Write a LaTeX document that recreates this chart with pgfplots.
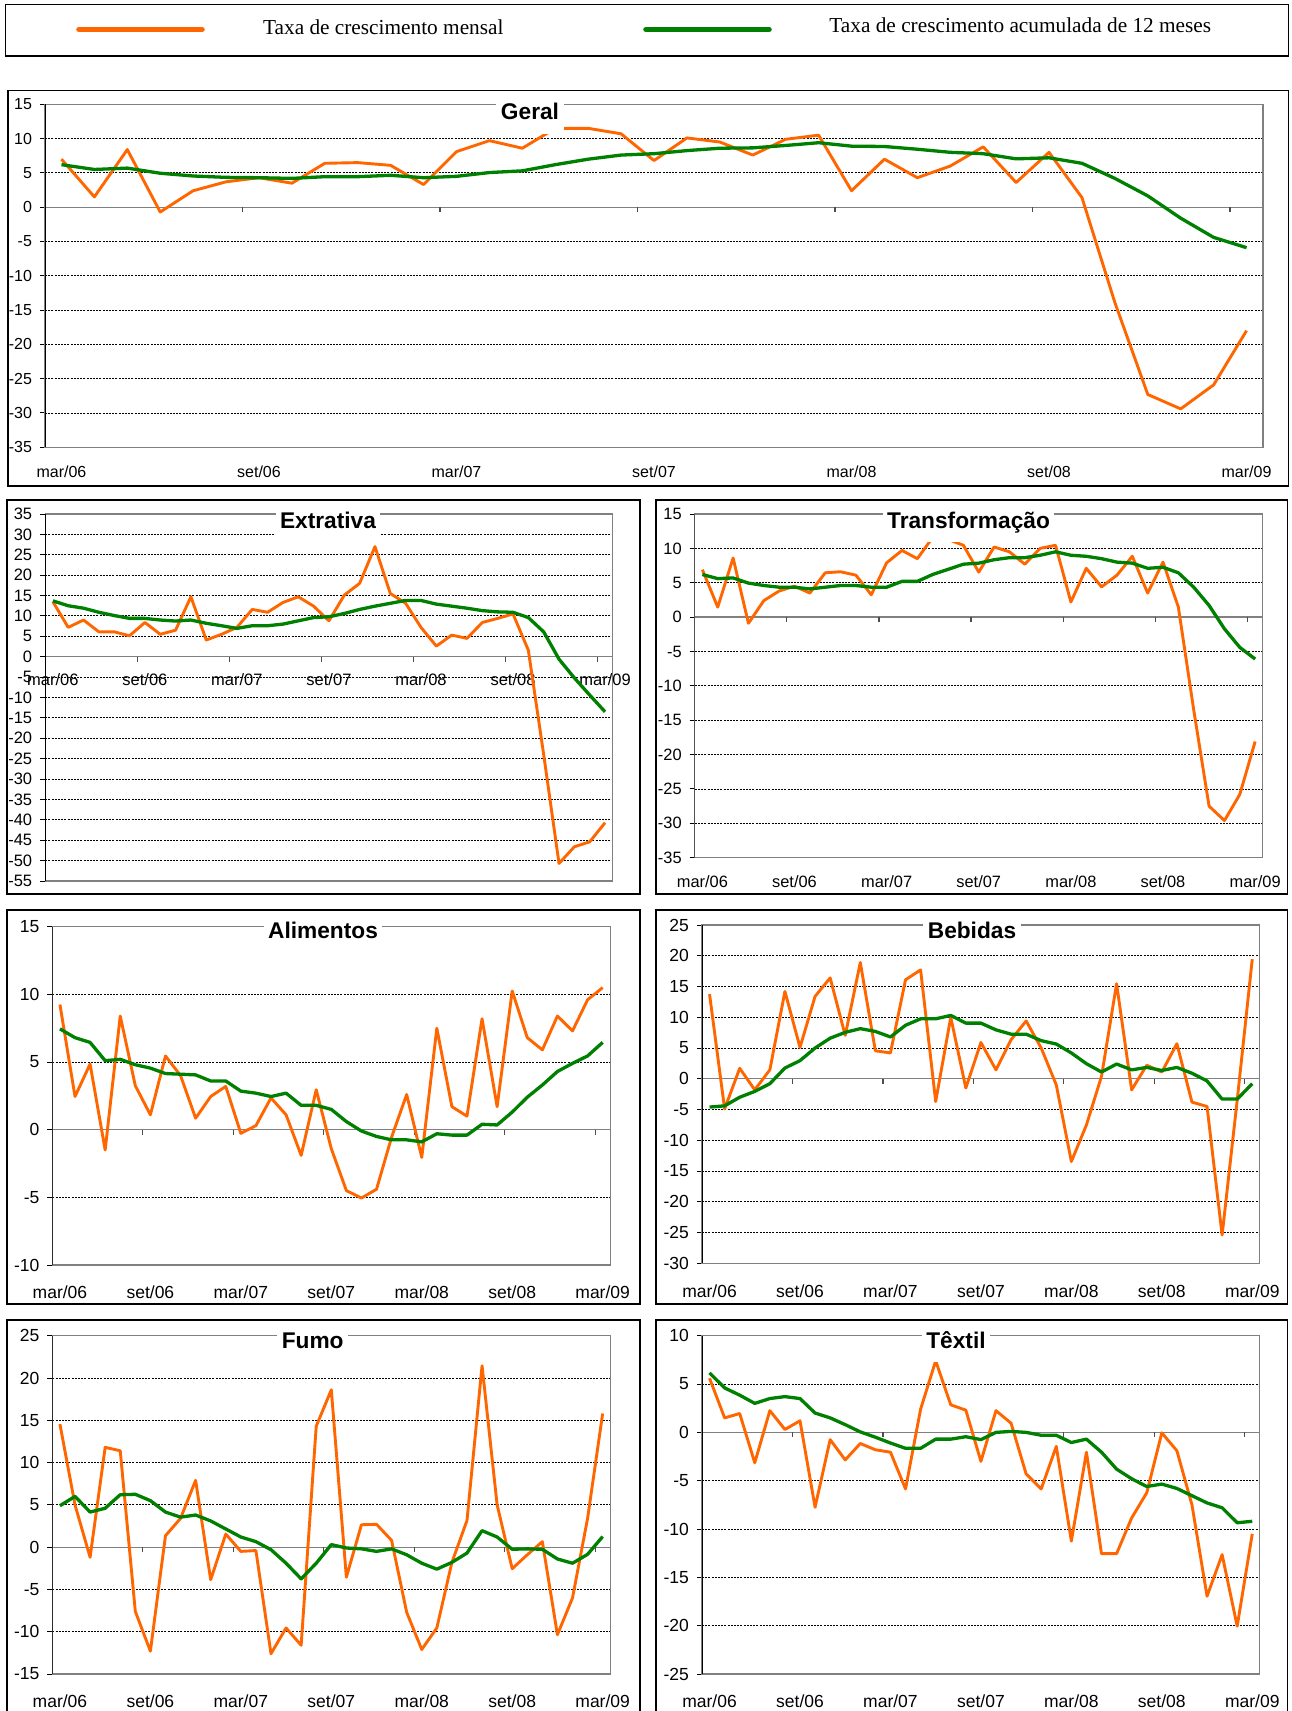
\documentclass[border=0pt]{standalone}
\usepackage{fontspec}
\setmainfont{Liberation Sans}
\newfontfamily\legendfont{Liberation Serif}
\usepackage{pgfplots}
\usepackage{pgfplotstable}
\pgfplotsset{compat=1.18}
\definecolor{serorange}{RGB}{255,102,0}
\definecolor{sergreen}{RGB}{0,128,0}
\definecolor{framegray}{RGB}{128,128,128}

\pgfplotstableread{
m a
7.0 6.2
1.5 5.5
8.4 5.7
-0.7 4.95
2.4 4.55
3.7 4.35
4.3 4.3
3.5 4.2
6.4 4.45
6.5 4.45
6.1 4.65
3.3 4.3
8.1 4.5
9.7 5.05
8.6 5.3
11.5 6.2
11.5 7.0
10.7 7.6
6.8 7.8
10.1 8.25
9.5 8.6
7.6 8.65
9.9 9.0
10.5 9.4
2.4 8.9
7.0 8.85
4.3 8.45
6.0 8.0
8.8 7.8
3.6 7.05
8.0 7.2
1.4 6.4
-13.9 4.2
-27.3 1.65
-29.4 -1.6
-25.9 -4.4
-18.0 -5.9
}\tgeral

\pgfplotstableread{
m a
13.5 13.7
7.2 12.5
9.0 11.9
6.1 10.9
6.1 10.1
5.15 9.4
8.4 9.4
5.5 9.0
6.5 8.75
14.7 9.0
4.1 8.2
5.5 7.6
7.2 6.95
11.6 7.6
10.9 7.6
13.3 8.0
14.7 8.8
12.4 9.6
8.8 9.8
15.1 10.6
18.0 11.6
27.0 12.4
15.5 13.1
13.1 13.8
7.2 13.8
2.6 12.9
5.3 12.4
4.5 11.9
8.4 11.3
9.4 11.0
10.5 10.9
1.6 9.6
-24.0 6.1
-50.7 -0.6
-46.6 -5.2
-45.4 -9.4
-40.7 -13.5
}\textrativa

\pgfplotstableread{
m a
6.9 6.2
1.45 5.6
8.6 5.7
-0.9 4.95
2.4 4.6
3.8 4.35
4.5 4.35
3.5 4.1
6.45 4.35
6.6 4.6
6.1 4.6
3.25 4.35
7.9 4.35
9.7 5.2
8.5 5.2
11.6 6.2
11.3 6.95
10.45 7.7
6.55 7.85
10.2 8.35
9.5 8.65
7.7 8.65
10.0 9.0
10.45 9.5
2.2 9.0
7.1 8.85
4.4 8.5
6.1 8.0
8.85 7.85
3.5 7.1
8.0 7.25
1.45 6.45
-13.5 4.35
-27.5 1.7
-29.6 -1.7
-25.8 -4.4
-18.1 -6.1
}\ttransf

\pgfplotstableread{
m a
9.25 7.45
2.45 6.8
4.85 6.45
-1.5 5.1
8.4 5.2
3.25 4.8
1.1 4.55
5.45 4.15
4.0 4.1
0.85 4.05
2.45 3.6
3.2 3.6
-0.27 2.85
0.3 2.7
2.35 2.45
1.1 2.7
-1.9 1.8
2.95 1.8
-1.4 1.5
-4.5 0.6
-5.05 -0.1
-4.4 -0.5
-0.55 -0.75
2.6 -0.75
-2.05 -0.9
7.5 -0.3
1.7 -0.4
1.0 -0.4
8.2 0.4
1.7 0.35
10.25 1.3
6.8 2.4
5.9 3.3
8.4 4.3
7.3 4.9
9.6 5.45
10.5 6.45
}\talim

\pgfplotstableread{
m a
13.75 -4.6
-4.9 -4.4
1.7 -3.0
-1.8 -2.05
1.45 -0.8
14.2 1.75
5.1 2.95
13.4 5.0
16.4 6.6
7.05 7.55
18.9 8.15
4.55 7.7
4.2 6.8
16.1 8.7
17.7 9.75
-3.7 9.75
10.0 10.3
-1.5 9.05
5.9 9.05
1.45 7.95
6.35 7.25
9.4 7.25
5.0 6.2
-1.0 5.65
-13.45 4.2
-7.5 2.45
0.4 1.1
15.45 2.4
-1.8 1.45
2.2 1.85
1.1 1.35
5.7 1.85
-3.8 0.9
-4.5 -0.35
-25.4 -3.3
-3.5 -3.3
19.45 -0.8
}\tbeb

\pgfplotstableread{
m a
14.55 4.9
5.0 6.0
-1.2 4.15
11.8 4.6
11.4 6.2
-7.6 6.25
-12.3 5.5
1.35 4.15
3.4 3.55
7.9 3.8
-3.85 3.1
1.55 2.15
-0.5 1.2
-0.4 0.65
-12.6 -0.3
-9.55 -1.9
-11.6 -3.75
14.3 -1.9
18.6 0.3
-3.55 -0.1
2.65 -0.2
2.7 -0.5
0.8 -0.2
-7.7 -0.9
-12.1 -1.9
-9.55 -2.6
-1.8 -1.8
3.15 -0.7
21.45 1.95
5.0 1.2
-2.55 -0.25
-0.9 -0.2
0.65 -0.25
-10.35 -1.4
-6.0 -1.9
3.4 -0.85
15.8 1.25
}\tfumo

\pgfplotstableread{
m a
5.6 6.15
1.5 4.6
1.95 3.85
-3.15 3.0
2.25 3.5
0.3 3.7
1.2 3.5
-7.75 2.0
-0.75 1.5
-2.85 0.8
-1.15 0.05
-1.8 -0.5
-2.05 -1.1
-5.85 -1.65
2.4 -1.65
7.4 -0.7
2.85 -0.7
2.3 -0.45
-3.0 -0.75
2.25 0.0
0.95 0.1
-4.3 0.0
-5.85 -0.3
-1.45 -0.3
-11.25 -1.05
-2.05 -0.7
-12.55 -2.05
-12.55 -3.8
-8.85 -4.8
-6.25 -5.6
-0.05 -5.35
-1.9 -5.8
-7.5 -6.55
-16.95 -7.3
-12.65 -7.8
-20.05 -9.35
-10.5 -9.2
}\ttextil

\pgfplotsset{
  panel/.style={
    scale only axis,
    anchor=south west,
    xmin=-0.5, xmax=36.5,
    xtick={0,6,...,36},
    xticklabels={mar/06,set/06,mar/07,set/07,mar/08,set/08,mar/09},
    xtick style={draw=none},
    ytick pos=left,
    tick align=outside,
    major tick length=2.5pt,
    ytick style={black, line width=0.5pt},
    axis line style={framegray, line width=0.6pt},
    ymajorgrids,
    grid style={black, line width=0.45pt, dash pattern=on 1pt off 0.6pt},
    /pgf/number format/assume math mode=true,
    yticklabel style={xshift=-0.5pt},
  },
  mens/.style={serorange, line width=1.45pt, line join=round},
  acum/.style={sergreen, line width=1.65pt, line join=round},
}

\newcommand{\zeroaxis}{%
  \draw[framegray, line width=0.65pt] (axis cs:-0.5,0) -- (axis cs:36.5,0);
  \pgfplotsinvokeforeach{5.5,11.5,17.5,23.5,29.5,35.5}{\draw[black!70, line width=0.6pt] (axis cs:##1,0) -- ++(0pt,-2.5pt);}%
}
\newcommand{\leftaxis}{\draw[black, line width=0.65pt] (rel axis cs:0,0) -- (rel axis cs:0,1);}
\newcommand{\ptitle}[3]{\node[font=\fontsize{11.35pt}{13pt}\selectfont\bfseries, fill=white, inner xsep=2.25pt, inner ysep=0pt, text height=11.5pt, text depth=7pt, anchor=base] at (#1pt,#2pt) {#3};}

\begin{document}
\begin{tikzpicture}
\useasboundingbox (0pt,0pt) rectangle (645.5pt,-855.5pt);

% Legend
\draw[line width=0.9pt] (2.75pt,-2.25pt) rectangle (644.25pt,-28pt);
\draw[serorange, line width=2.8pt, line cap=round] (39.5pt,-14.75pt) -- (101pt,-14.75pt);
\draw[sergreen, line width=2.8pt, line cap=round] (323pt,-14.75pt) -- (384.5pt,-14.75pt);
\node[anchor=base west, inner sep=0pt, font=\legendfont\fontsize{10.65pt}{12pt}\selectfont] at (131.35pt,-17.15pt) {Taxa de crescimento mensal};
\node[anchor=base west, inner sep=0pt, font=\legendfont\fontsize{10.65pt}{12pt}\selectfont] at (414.5pt,-16.05pt) {Taxa de crescimento acumulada de 12 meses};

% Frames
\draw[line width=0.9pt] (3.8pt,-45.3pt) rectangle (644.25pt,-242.8pt);
\draw[line width=0.9pt] (3.5pt,-249.85pt) rectangle (320pt,-447.15pt);
\draw[line width=0.9pt] (328pt,-249.85pt) rectangle (643.75pt,-447.15pt);
\draw[line width=0.9pt] (3.5pt,-454.85pt) rectangle (320pt,-652pt);
\draw[line width=0.9pt] (328pt,-454.85pt) rectangle (643.75pt,-652pt);
\draw[line width=0.9pt] (3.5pt,-659.85pt) rectangle (320pt,-870pt);
\draw[line width=0.9pt] (328pt,-659.85pt) rectangle (643.75pt,-870pt);

% Geral
\begin{axis}[panel, at={(22.5pt,-223.65pt)}, width=609pt, height=171.5pt,
  ymin=-35, ymax=15, ytick={-35,-30,...,15},
  tick label style={font=\fontsize{8pt}{9.6pt}\selectfont},
  xticklabel style={yshift=-3.1pt}]
\zeroaxis
\addplot[mens] table[x expr=\coordindex, y=m] {\tgeral};
\addplot[acum] table[x expr=\coordindex, y=a] {\tgeral};
\leftaxis
\end{axis}
\ptitle{265}{-60}{Geral}

% Extrativa
\begin{axis}[panel, at={(22.6pt,-440.5pt)}, width=283.75pt, height=183.5pt,
  ymin=-55, ymax=35, ytick={-55,-50,...,35},
  tick label style={font=\fontsize{8.25pt}{9.8pt}\selectfont},
  xticklabel style={yshift=109.7pt}]
\zeroaxis
\addplot[mens] table[x expr=\coordindex, y=m] {\textrativa};
\addplot[acum] table[x expr=\coordindex, y=a] {\textrativa};
\leftaxis
\end{axis}
\ptitle{164}{-264}{Extrativa}

% Transformacao
\begin{axis}[panel, at={(347.35pt,-428.85pt)}, width=284.05pt, height=171.85pt,
  ymin=-35, ymax=15, ytick={-35,-30,...,15},
  tick label style={font=\fontsize{8.2pt}{9.8pt}\selectfont},
  xticklabel style={yshift=-2.8pt}]
\zeroaxis
\addplot[mens] table[x expr=\coordindex, y=m] {\ttransf};
\addplot[acum] table[x expr=\coordindex, y=a] {\ttransf};
\leftaxis
\end{axis}
\ptitle{484.25}{-264}{Transformação}

% Alimentos
\begin{axis}[panel, at={(26.2pt,-632.5pt)}, width=278.9pt, height=169.15pt,
  ymin=-10, ymax=15, ytick={-10,-5,...,15},
  tick label style={font=\fontsize{8.75pt}{10.5pt}\selectfont},
  xticklabel style={yshift=-4.25pt}]
\zeroaxis
\addplot[mens] table[x expr=\coordindex, y=m] {\talim};
\addplot[acum] table[x expr=\coordindex, y=a] {\talim};
\leftaxis
\end{axis}
\ptitle{161.5}{-469}{Alimentos}

% Bebidas
\begin{axis}[panel, at={(351pt,-631.65pt)}, width=278.9pt, height=169.15pt,
  ymin=-30, ymax=25, ytick={-30,-25,...,25},
  tick label style={font=\fontsize{8.75pt}{10.5pt}\selectfont},
  xticklabel style={yshift=-4.6pt}]
\zeroaxis
\addplot[mens] table[x expr=\coordindex, y=m] {\tbeb};
\addplot[acum] table[x expr=\coordindex, y=a] {\tbeb};
\leftaxis
\end{axis}
\ptitle{486}{-469}{Bebidas}

% Fumo
\begin{axis}[panel, at={(26.2pt,-837pt)}, width=278.9pt, height=169.15pt,
  ymin=-15, ymax=25, ytick={-15,-10,...,25},
  tick label style={font=\fontsize{8.75pt}{10.5pt}\selectfont},
  xticklabel style={yshift=-4.25pt}]
\zeroaxis
\addplot[mens] table[x expr=\coordindex, y=m] {\tfumo};
\addplot[acum] table[x expr=\coordindex, y=a] {\tfumo};
\leftaxis
\end{axis}
\ptitle{156.35}{-674}{Fumo}

% Textil
\begin{axis}[panel, at={(351pt,-837pt)}, width=278.9pt, height=169.15pt,
  ymin=-25, ymax=10, ytick={-25,-20,...,10},
  tick label style={font=\fontsize{8.75pt}{10.5pt}\selectfont},
  xticklabel style={yshift=-4.25pt}]
\zeroaxis
\addplot[mens] table[x expr=\coordindex, y=m] {\ttextil};
\addplot[acum] table[x expr=\coordindex, y=a] {\ttextil};
\leftaxis
\end{axis}
\ptitle{478}{-674}{Têxtil}
\end{tikzpicture}
\end{document}
